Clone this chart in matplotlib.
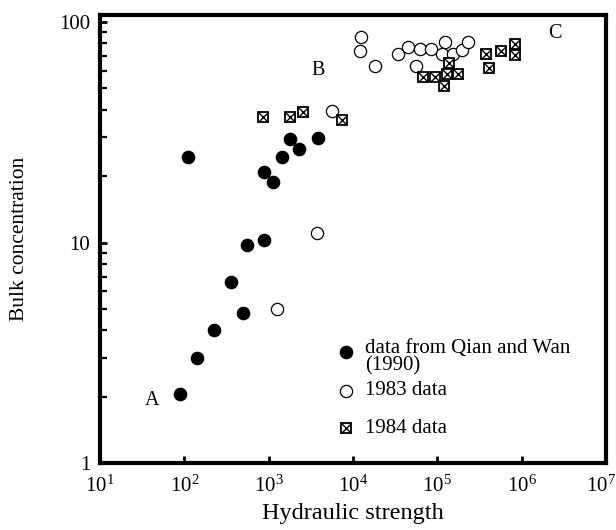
import matplotlib
matplotlib.use("Agg")
import matplotlib.pyplot as plt
from matplotlib.ticker import FixedLocator, LogLocator, NullFormatter, FixedFormatter
from matplotlib.transforms import ScaledTranslation

plt.rcParams["font.family"] = ["Liberation Serif", "DejaVu Serif"]
plt.rcParams["mathtext.fontset"] = "custom"
plt.rcParams["mathtext.rm"] = "Liberation Serif"
plt.rcParams["mathtext.it"] = "Liberation Serif:italic"

# Qian and Wan (1990): filled circles
qian_x = [90, 143, 223, 499, 359, 560, 891, 112, 1436, 891, 1129, 1780, 2270, 3810]
qian_y = [2.05, 3.0, 4.0, 4.8, 6.65, 9.7, 10.3, 24.4, 24.4, 20.8, 18.8, 29.5, 26.6, 29.9]

# 1983 data: open circles
d83_x = [1262, 3776, 5700, 12600, 12200, 18400, 33900, 44700, 62100, 84600,
         124000, 114500, 152700, 196600, 230500, 56500]
d83_y = [4.97, 11.1, 39.3, 85.7, 74.1, 63.5, 71.4, 77.3, 75.6, 75.6,
         81.5, 71.4, 71.4, 75.0, 81.5, 63.2]

# 1984 data: crossed squares
d84_x = [851, 1780, 2520, 7400, 68100, 94700, 119900, 138400, 129600, 176200,
         372700, 410000, 573500, 841000, 841000]
d84_y = [37.2, 37.2, 39.1, 35.8, 56.5, 56.5, 51.4, 65.5, 58.0, 58.0,
         71.4, 61.7, 73.6, 79.3, 70.5]

x_ticks = [1e1, 1e2, 1e3, 1e4, 1e5, 1e6, 1e7]
x_ticklabels = [r"$10^{%d}$" % k for k in range(1, 8)]
y_ticks = [1, 10, 100]
y_ticklabels = ["1", "10", "100"]

region_labels = [("A", 0.102, 0.140), ("B", 0.431, 0.877), ("C", 0.899, 0.958)]

fig = plt.figure(figsize=(6.16, 5.30), dpi=100)
ax = fig.add_axes([100 / 616, 1 - 463 / 530, 506 / 616, 448 / 530])

ax.set_xscale("log")
ax.set_yscale("log")

ax.plot(qian_x, qian_y, "o", ms=8.8, mfc="black", mec="black", zorder=3)
ax.plot(d83_x, d83_y, "o", ms=8.8, mfc="white", mec="black", mew=0.9, zorder=2)
ax.plot(d84_x, d84_y, "s", ms=7.6, mfc="white", mec="black", mew=1.3, zorder=4)
ax.plot(d84_x, d84_y, "x", ms=7.6, mec="black", mew=1.0, zorder=5)

ax.set_xlim(10, 1e7)
ax.set_ylim(1, 107.6)

ax.xaxis.set_major_locator(FixedLocator(x_ticks))
ax.xaxis.set_major_formatter(FixedFormatter(x_ticklabels))
ax.xaxis.set_minor_locator(FixedLocator([]))
ax.yaxis.set_major_locator(FixedLocator(y_ticks))
ax.yaxis.set_major_formatter(FixedFormatter(y_ticklabels))
ax.yaxis.set_minor_locator(LogLocator(base=10, subs=range(2, 10)))
ax.yaxis.set_minor_formatter(NullFormatter())

ax.tick_params(axis="both", which="major", direction="in", length=5, width=2,
               labelsize=15)
ax.tick_params(axis="x", which="major", pad=9)
ax.tick_params(axis="y", which="major", pad=7)
ax.tick_params(axis="y", which="minor", direction="in", length=5, width=1.6)

# keep the last x label inside the figure, as in the original
last = ax.get_xticklabels()[-1]
last.set_transform(last.get_transform() + ScaledTranslation(-5 / 100, 0, fig.dpi_scale_trans))

for sp in ax.spines.values():
    sp.set_linewidth(3.0)

ax.set_xlabel("Hydraulic strength", fontsize=17.5)
ax.xaxis.set_label_coords(0.5, -0.089)
ax.set_ylabel("Bulk concentration", fontsize=15.5)
ax.yaxis.set_label_coords(-0.14, 0.5)

for txt, xf, yf in region_labels:
    ax.text(xf, yf, txt, transform=ax.transAxes, fontsize=14.5,
            ha="center", va="center")

# hand-placed legend, as in the original figure
leg_mx, leg_tx = 0.487, 0.524
ax.plot([leg_mx], [0.248], "o", ms=8.8, mfc="black", mec="black",
        transform=ax.transAxes, clip_on=False)
ax.text(leg_tx, 0.236, "data from Qian and Wan\n(1990)", transform=ax.transAxes,
        fontsize=15, ha="left", va="center", linespacing=0.88)
ax.plot([leg_mx], [0.161], "o", ms=8.8, mfc="white", mec="black", mew=0.9,
        transform=ax.transAxes, clip_on=False)
ax.text(leg_tx, 0.161, "1983 data", transform=ax.transAxes,
        fontsize=15, ha="left", va="center")
ax.plot([leg_mx], [0.078], "s", ms=7.6, mfc="white", mec="black", mew=1.3,
        transform=ax.transAxes, clip_on=False)
ax.plot([leg_mx], [0.078], "x", ms=7.6, mec="black", mew=1.0,
        transform=ax.transAxes, clip_on=False)
ax.text(leg_tx, 0.078, "1984 data", transform=ax.transAxes,
        fontsize=15, ha="left", va="center")

fig.savefig("out.png", dpi=100)
